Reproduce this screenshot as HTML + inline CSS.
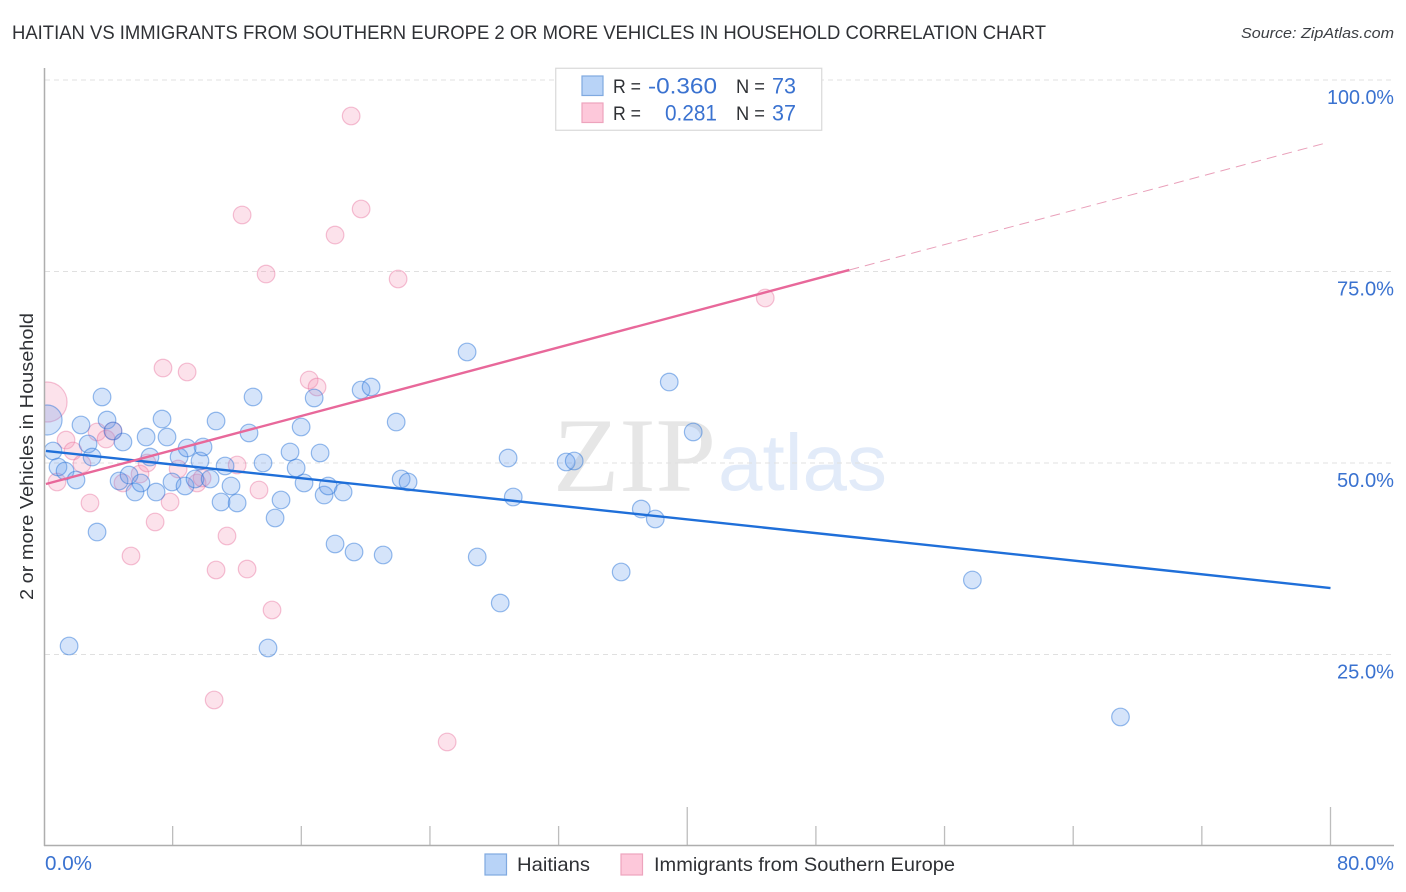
<!DOCTYPE html>
<html lang="en">
<head>
<meta charset="utf-8">
<title>Haitian vs Immigrants from Southern Europe 2 or more Vehicles in Household Correlation Chart</title>
<style>
html,body{margin:0;padding:0;background:#fff;width:1406px;height:892px;overflow:hidden}
svg{display:block;font-family:"Liberation Sans",sans-serif}
</style>
</head>
<body>
<svg id="chart" width="1406" height="892" viewBox="0 0 1406 892" xmlns="http://www.w3.org/2000/svg">
  <rect x="0" y="0" width="1406" height="892" fill="#ffffff"/>

  <g>
    <text x="553" y="491" font-family="'Liberation Serif',serif" font-size="106" fill="#e6e6e6" textLength="163" lengthAdjust="spacingAndGlyphs">ZIP</text>
    <text x="718" y="490" font-size="80" fill="#e2ebf9" textLength="169" lengthAdjust="spacingAndGlyphs">atlas</text>
  </g>

  <g id="grid"></g>
  <g id="x-ticks"></g>

  <g id="points"></g>
  <g id="trends"></g>

  <rect x="0" y="60" width="44.5" height="800" fill="#ffffff"/>
  <line x1="44.5" y1="68" x2="44.5" y2="846" stroke="#aeaeae" stroke-width="1.5"/>
  <line x1="44" y1="845.5" x2="1394" y2="845.5" stroke="#aeaeae" stroke-width="1.5"/>
  <text transform="translate(33,600) rotate(-90)" font-size="18.5" fill="#2f3135" textLength="287" lengthAdjust="spacingAndGlyphs">2 or more Vehicles in Household</text>

  <text x="12" y="39" font-size="19" fill="#2f3135" textLength="1034" lengthAdjust="spacingAndGlyphs">HAITIAN VS IMMIGRANTS FROM SOUTHERN EUROPE 2 OR MORE VEHICLES IN HOUSEHOLD CORRELATION CHART</text>
  <text x="1241" y="38" font-size="15" font-style="italic" fill="#3c3f44" textLength="153" lengthAdjust="spacingAndGlyphs">Source: ZipAtlas.com</text>

  <g id="tick-labels"></g>

  <g>
    <rect x="555.75" y="68.25" width="266" height="62" fill="#ffffff" stroke="#d9d9d9" stroke-width="1.2"/>
    <rect x="582" y="76" width="21" height="19.5" fill="#b8d3f7" stroke="#7fa9e0" stroke-width="1.2"/>
    <rect x="582" y="103" width="21" height="19.5" fill="#fdc8da" stroke="#eda4bd" stroke-width="1.2"/>
    <text x="613" y="93" font-size="19" fill="#2f3135" textLength="28" lengthAdjust="spacingAndGlyphs">R =</text>
    <text x="648" y="93.5" font-size="22" fill="#3a72d0" textLength="69" lengthAdjust="spacingAndGlyphs">-0.360</text>
    <text x="736" y="93" font-size="19" fill="#2f3135" textLength="29" lengthAdjust="spacingAndGlyphs">N =</text>
    <text x="772" y="93.5" font-size="22" fill="#3a72d0" textLength="24" lengthAdjust="spacingAndGlyphs">73</text>
    <text x="613" y="120" font-size="19" fill="#2f3135" textLength="28" lengthAdjust="spacingAndGlyphs">R =</text>
    <text x="665" y="120.5" font-size="22" fill="#3a72d0" textLength="52" lengthAdjust="spacingAndGlyphs">0.281</text>
    <text x="736" y="120" font-size="19" fill="#2f3135" textLength="29" lengthAdjust="spacingAndGlyphs">N =</text>
    <text x="772" y="120.5" font-size="22" fill="#3a72d0" textLength="24" lengthAdjust="spacingAndGlyphs">37</text>
  </g>

  <g>
    <rect x="485" y="854" width="21.5" height="21" fill="#b8d3f7" stroke="#7fa9e0" stroke-width="1.2"/>
    <text x="517" y="871" font-size="19.5" fill="#2f3135" textLength="73" lengthAdjust="spacingAndGlyphs">Haitians</text>
    <rect x="621" y="854" width="21.5" height="21" fill="#fdc8da" stroke="#eda4bd" stroke-width="1.2"/>
    <text x="654" y="871" font-size="19.5" fill="#2f3135" textLength="301" lengthAdjust="spacingAndGlyphs">Immigrants from Southern Europe</text>
  </g>
</svg>
<script>
const yGridValues = [100, 75, 50, 25];
const yTickLabels = ["100.0%", "75.0%", "50.0%", "25.0%"];
const xTickValues = [8, 16, 24, 32, 40, 48, 56, 64, 72, 80];
const xMajorTicks = [40, 80];
const xEdgeValues = [0, 80];
const xEdgeLabels = ["0.0%", "80.0%"];

const haitianX = [0.56,0.87,1.31,1.99,2.30,2.74,2.99,3.30,3.61,3.92,4.29,4.91,4.67,5.29,5.66,6.03,6.35,6.59,6.97,7.34,7.65,7.96,8.40,8.77,8.90,9.39,9.70,9.89,10.33,10.70,11.01,11.26,11.63,12.01,12.75,13.00,13.62,14.37,14.74,15.30,15.68,15.99,16.17,16.80,17.17,17.42,17.67,18.10,18.60,19.28,19.72,20.34,21.09,21.90,22.21,22.64,26.31,26.94,28.37,28.86,29.18,32.47,32.97,35.89,37.14,38.01,38.88,40.37,57.73,66.94,1.56,13.93,0.19];
const haitianY = [51.57,49.48,48.96,47.78,54.96,52.48,50.78,40.99,58.62,55.61,54.18,52.74,47.65,48.43,46.21,47.39,53.39,50.78,46.21,55.74,53.39,47.52,50.78,47.00,51.96,47.91,50.26,52.09,47.91,55.48,44.91,49.61,47.00,44.78,53.92,58.62,50.00,42.82,45.17,51.44,49.35,54.70,47.39,58.49,51.31,45.82,47.00,39.43,46.21,38.38,59.53,59.92,37.99,55.35,47.91,47.52,64.49,37.73,31.72,50.65,45.56,50.13,50.26,35.77,43.99,42.69,60.57,54.05,34.73,16.84,26.11,25.85,55.61];
const immigrantX = [0.19,0.81,1.37,1.80,2.36,2.86,3.30,3.86,4.29,4.91,5.41,5.97,6.41,6.91,7.40,7.84,8.34,8.90,9.52,9.83,10.70,11.38,12.01,10.58,12.32,12.63,13.37,13.81,14.18,16.49,16.98,18.10,19.10,19.72,22.02,25.07,44.85];
const immigrantY = [57.96,47.52,53.00,51.57,49.87,44.78,54.05,53.13,54.18,47.39,37.86,48.56,50.00,42.30,62.40,44.91,49.22,61.88,47.39,48.04,36.03,40.47,49.74,19.06,82.38,36.16,46.48,74.67,30.81,60.84,59.92,79.76,95.30,83.16,74.02,13.58,71.54];

const haitianTrendX = [0.12, 80];
const haitianTrendY = [51.57, 33.68];
const immigrantTrendX = [0.12, 50.08];
const immigrantTrendY = [47.26, 75.20];
const immigrantForecastX = [50.08, 79.81];
const immigrantForecastY = [75.20, 91.83];

const SVG_NS = "http://www.w3.org/2000/svg";
const xScale = v => 44 + v * (1286.5 / 80);
const yScale = v => 846 - v * (766 / 100);

const grid = document.getElementById("grid");
const xTicks = document.getElementById("x-ticks");
const tickLabels = document.getElementById("tick-labels");
const points = document.getElementById("points");
const trends = document.getElementById("trends");

function labelWidth(text) {
  return text.length === 6 ? 67 : (text === "0.0%" ? 47 : 57);
}

yGridValues.forEach((value, i) => {
  const y = yScale(value);
  const gridLine = document.createElementNS(SVG_NS, "line");
  
  
  gridLine.setAttribute("x1", 45);
  gridLine.setAttribute("x2", 1394);
  gridLine.setAttribute("y1", y);
  gridLine.setAttribute("y2", y);
  gridLine.setAttribute("stroke", "#e0e0e0");
  gridLine.setAttribute("stroke-width", "1");
  gridLine.setAttribute("stroke-dasharray", "5 4");
  grid.appendChild(gridLine);

  const label = document.createElementNS(SVG_NS, "text");
  
  
  const w = labelWidth(yTickLabels[i]);
  label.setAttribute("x", 1394 - w);
  label.setAttribute("y", y + 24);
  label.setAttribute("font-size", "20");
  label.setAttribute("fill", "#3a72d0");
  label.setAttribute("textLength", w);
  label.setAttribute("lengthAdjust", "spacingAndGlyphs");
  label.textContent = yTickLabels[i];
  tickLabels.appendChild(label);
});

xTickValues.forEach(value => {
  const x = xScale(value);
  const tick = document.createElementNS(SVG_NS, "line");
  
  
  tick.setAttribute("x1", x);
  tick.setAttribute("x2", x);
  tick.setAttribute("y1", xMajorTicks.includes(value) ? 807 : 826);
  tick.setAttribute("y2", 846);
  tick.setAttribute("stroke", "#bdbdbd");
  tick.setAttribute("stroke-width", "1.3");
  xTicks.appendChild(tick);
});

xEdgeValues.forEach((value, i) => {
  const label = document.createElementNS(SVG_NS, "text");
  
  
  const w = labelWidth(xEdgeLabels[i]);
  label.setAttribute("x", i === 0 ? xScale(value) + 1 : 1394 - w);
  label.setAttribute("y", 870);
  label.setAttribute("font-size", "20");
  label.setAttribute("fill", "#3a72d0");
  label.setAttribute("textLength", w);
  label.setAttribute("lengthAdjust", "spacingAndGlyphs");
  label.textContent = xEdgeLabels[i];
  tickLabels.appendChild(label);
});

function drawImmigrantPoint(x, y, i) {
  const dot = document.createElementNS(SVG_NS, "circle");
  
  
  dot.setAttribute("cx", xScale(x));
  dot.setAttribute("cy", yScale(y));
  dot.setAttribute("r", i === 0 ? 20 : 8.8);
  dot.setAttribute("fill", "rgba(246,150,182,0.28)");
  dot.setAttribute("stroke", "rgba(232,110,155,0.42)");
  dot.setAttribute("stroke-width", "1.2");
  points.appendChild(dot);
}

function drawHaitianPoint(x, y, i) {
  const dot = document.createElementNS(SVG_NS, "circle");
  
  
  dot.setAttribute("cx", xScale(x));
  dot.setAttribute("cy", yScale(y));
  dot.setAttribute("r", i === haitianX.length - 1 ? 15 : 8.8);
  dot.setAttribute("fill", "rgba(98,155,235,0.27)");
  dot.setAttribute("stroke", "rgba(40,115,215,0.48)");
  dot.setAttribute("stroke-width", "1.2");
  points.appendChild(dot);
}

immigrantX.forEach((x, i) => drawImmigrantPoint(x, immigrantY[i], i));
haitianX.forEach((x, i) => drawHaitianPoint(x, haitianY[i], i));

function coords(xs, ys) {
  return { x1: xScale(xs[0]), y1: yScale(ys[0]), x2: xScale(xs[1]), y2: yScale(ys[1]) };
}

const haitianCoords = coords(haitianTrendX, haitianTrendY);
const haitianLine = document.createElementNS(SVG_NS, "line");


Object.keys(haitianCoords).forEach(k => haitianLine.setAttribute(k, haitianCoords[k]));
haitianLine.setAttribute("stroke", "#1f6fd9");
haitianLine.setAttribute("stroke-width", "2.4");
trends.appendChild(haitianLine);

const immigrantCoords = coords(immigrantTrendX, immigrantTrendY);
const immigrantLine = document.createElementNS(SVG_NS, "line");


Object.keys(immigrantCoords).forEach(k => immigrantLine.setAttribute(k, immigrantCoords[k]));
immigrantLine.setAttribute("stroke", "#e8689a");
immigrantLine.setAttribute("stroke-width", "2.4");
trends.appendChild(immigrantLine);

const forecastCoords = coords(immigrantForecastX, immigrantForecastY);
const forecastLine = document.createElementNS(SVG_NS, "line");


Object.keys(forecastCoords).forEach(k => forecastLine.setAttribute(k, forecastCoords[k]));
forecastLine.setAttribute("stroke", "#e9a0ba");
forecastLine.setAttribute("stroke-width", "1");
forecastLine.setAttribute("stroke-dasharray", "10 6");
trends.appendChild(forecastLine);
</script>
</body>
</html>
